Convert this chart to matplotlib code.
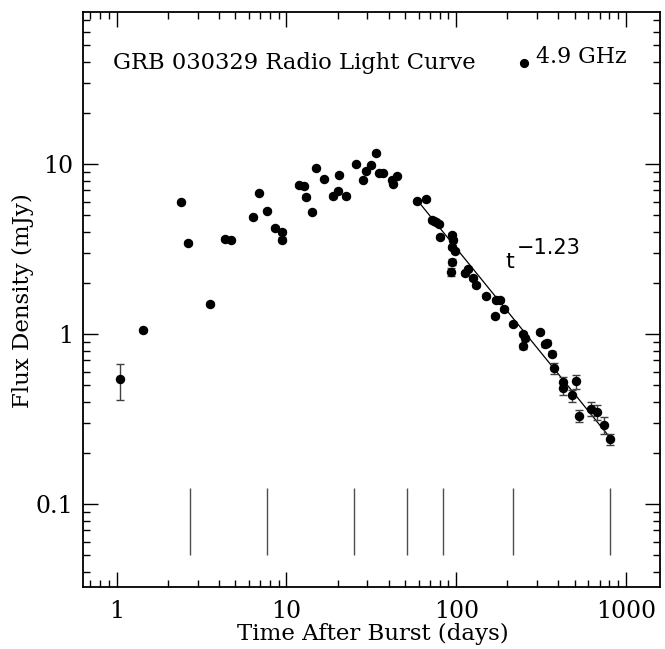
import matplotlib
matplotlib.use("Agg")
import matplotlib.pyplot as plt
from matplotlib.ticker import LogLocator, FixedLocator, FixedFormatter, NullFormatter
import numpy as np

# ---- data ----
t_days = [1.045, 1.43, 2.38, 2.63, 3.54, 4.36, 4.71, 6.35, 6.89, 7.64, 8.56, 9.37, 9.45,
          11.8, 12.6, 13.1, 14.2, 14.9, 16.6, 18.7, 20.2, 20.5, 22.3, 25.7, 28.4, 29.3,
          31.5, 33.6, 35.2, 36.9, 41.7, 42.6, 44.6,
          59.0, 66.4, 72.3, 74.0, 76.0, 79.2, 80.6, 94.0, 96.2, 94.0, 98.4, 94.9, 92.8,
          112.7, 116.9, 126.2, 130.3, 149.9, 171.0, 181.0, 168.6, 191.3, 215.3, 248.5,
          254.0, 248.5, 311.9, 333.6, 344.0, 367.0, 378.0, 428.0, 428.0, 506.0, 479.5,
          529.6, 620.0, 673.0, 743.0, 806.0]
flux_mjy = [0.541, 1.05, 5.95, 3.44, 1.51, 3.62, 3.56, 4.88, 6.73, 5.31, 4.20, 3.98, 3.58,
            7.52, 7.39, 6.40, 5.24, 9.47, 8.16, 6.48, 6.97, 8.65, 6.48, 10.0, 8.05, 9.14,
            9.83, 11.56, 8.89, 8.89, 8.05, 7.66, 8.53,
            6.06, 6.20, 4.69, 4.62, 4.58, 4.42, 3.73, 3.82, 3.57, 3.26, 3.08, 2.66, 2.33,
            2.28, 2.41, 2.13, 1.94, 1.67, 1.58, 1.58, 1.28, 1.41, 1.15, 1.00,
            0.944, 0.85, 1.03, 0.873, 0.889, 0.766, 0.631, 0.52, 0.48, 0.527, 0.436,
            0.331, 0.362, 0.348, 0.292, 0.241]
flux_err = [0.13, 0.02, 0.10, 0.08, 0.04, 0.08, 0.08, 0.10, 0.10, 0.10, 0.10, 0.10, 0.12,
            0.15, 0.15, 0.15, 0.12, 0.15, 0.15, 0.15, 0.15, 0.15, 0.15, 0.20, 0.15, 0.15,
            0.20, 0.20, 0.15, 0.15, 0.15, 0.15, 0.15,
            0.12, 0.12, 0.10, 0.10, 0.10, 0.10, 0.10, 0.10, 0.10, 0.10, 0.10, 0.10, 0.12,
            0.06, 0.06, 0.06, 0.06, 0.04, 0.04, 0.04, 0.04, 0.04, 0.03, 0.03,
            0.03, 0.03, 0.03, 0.03, 0.03, 0.025, 0.045, 0.04, 0.04, 0.05, 0.035,
            0.027, 0.034, 0.035, 0.033, 0.017]

# power-law decay fit F = A t^-1.23
fit_index = -1.23
fit_norm = 923.0
fit_t_range = [60.0, 820.0]

# VLBI epoch markers (days)
vlbi_epochs = [2.7, 7.7, 25.0, 51.3, 83.3, 217.0, 806.0]
vlbi_span = [0.05, 0.125]

x_ticks = [1, 10, 100, 1000]
x_ticklabels = ["1", "10", "100", "1000"]
y_ticks = [0.1, 1, 10]
y_ticklabels = ["0.1", "1", "10"]

serif = "DejaVu Serif"

fig = plt.figure(figsize=(6.65, 6.49), dpi=100)
ax = fig.add_axes([0.1244, 0.0951, 0.8681, 0.8858])
ax.set_xscale("log")
ax.set_yscale("log")
ax.set_xlim(0.63, 1588)
ax.set_ylim(0.0324, 78)

ax.errorbar(t_days, flux_mjy, yerr=flux_err, fmt="o", color="black", ms=5.8,
            mec="black", ecolor="0.25", elinewidth=1.0, capsize=3.0, capthick=1.0,
            zorder=3)

tfit = np.logspace(np.log10(fit_t_range[0]), np.log10(fit_t_range[1]), 50)
ax.plot(tfit, fit_norm * tfit ** fit_index, color="black", lw=0.9, zorder=2)

ax.vlines(vlbi_epochs, vlbi_span[0], vlbi_span[1], colors="0.3", lw=1.0)

# ticks
ax.xaxis.set_major_locator(FixedLocator(x_ticks))
ax.xaxis.set_major_formatter(FixedFormatter(x_ticklabels))
ax.xaxis.set_minor_locator(LogLocator(base=10, subs=np.arange(2, 10), numticks=20))
ax.xaxis.set_minor_formatter(NullFormatter())
ax.yaxis.set_major_locator(FixedLocator(y_ticks))
ax.yaxis.set_major_formatter(FixedFormatter(y_ticklabels))
ax.yaxis.set_minor_locator(LogLocator(base=10, subs=np.arange(2, 10), numticks=20))
ax.yaxis.set_minor_formatter(NullFormatter())

ax.tick_params(which="both", direction="in", top=True, right=True, color="black")
ax.tick_params(which="major", length=10.5, width=1.0)
ax.tick_params(which="minor", length=5.3, width=1.0)
ax.tick_params(axis="x", which="major", pad=9)
ax.tick_params(axis="y", which="major", pad=7)
for lab in ax.get_xticklabels() + ax.get_yticklabels():
    lab.set_fontfamily(serif)
    lab.set_fontsize(17)
for sp in ax.spines.values():
    sp.set_linewidth(1.3)

fig.text(373 / 665, 1 - 634 / 649, "Time After Burst (days)", fontsize=16.5,
         family=serif, ha="center", va="center")
fig.text(23 / 665, 1 - 301 / 649, "Flux Density (mJy)", fontsize=16.5,
         family=serif, ha="center", va="center", rotation=90)

ax.text(0.0525, 0.912, "GRB 030329 Radio Light Curve", transform=ax.transAxes,
        fontsize=16.3, family=serif, ha="left", va="center")
ax.plot([0.765], [0.9115], "o", color="black", ms=5.6, transform=ax.transAxes)
ax.text(0.785, 0.9225, "4.9 GHz", transform=ax.transAxes,
        fontsize=15.8, family=serif, ha="left", va="center")

# t^-1.23 annotation
ax.text(207, 2.64, "t", fontsize=16, family="DejaVu Sans", ha="center", va="center")
ax.text(229, 3.2, "\u22121.23", fontsize=15, family="DejaVu Sans", ha="left", va="center")

fig.savefig("out.png", dpi=100)
